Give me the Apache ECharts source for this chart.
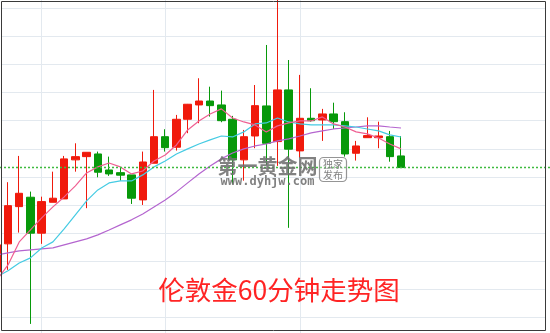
<!DOCTYPE html>
<html><head><meta charset="utf-8">
<script src="https://cdn.jsdelivr.net/npm/echarts@6/dist/echarts.min.js"></script>
<style>html,body{margin:0;padding:0;background:#fff;}#c{width:550px;height:333px;}</style>
</head><body><div id="c"></div>
<script>
// [open, close, low, high] per 60-minute candle
const ohlc = [
  [1265.23, 1267.16, 1264.95, 1267.51],
  [1267.23, 1269.95, 1265.38, 1271.62],
  [1269.88, 1270.83, 1268.03, 1273.49],
  [1270.55, 1267.99, 1261.53, 1270.95],
  [1267.99, 1270.24, 1267.23, 1270.59],
  [1270.19, 1270.48, 1270.19, 1272.37],
  [1270.43, 1273.28, 1270.43, 1273.49],
  [1273.21, 1273.44, 1272.37, 1274.39],
  [1273.44, 1273.75, 1269.77, 1273.75],
  [1273.63, 1272.33, 1271.97, 1273.80],
  [1272.49, 1272.21, 1272.07, 1273.44],
  [1272.30, 1272.12, 1271.73, 1272.66],
  [1272.14, 1270.48, 1270.07, 1272.14],
  [1270.36, 1273.06, 1270.00, 1273.80],
  [1272.97, 1274.86, 1272.97, 1278.19],
  [1274.86, 1274.08, 1273.80, 1275.39],
  [1274.11, 1276.10, 1273.87, 1276.41],
  [1276.10, 1277.17, 1275.11, 1277.19],
  [1277.12, 1277.40, 1275.82, 1279.02],
  [1277.40, 1277.07, 1276.29, 1278.42],
  [1277.12, 1276.00, 1275.89, 1278.14],
  [1276.10, 1273.21, 1271.50, 1276.34],
  [1273.21, 1274.86, 1271.73, 1275.34],
  [1274.91, 1277.07, 1274.04, 1278.54],
  [1277.05, 1274.39, 1272.85, 1281.39],
  [1274.51, 1278.19, 1272.78, 1284.81],
  [1278.19, 1273.97, 1268.37, 1280.32],
  [1273.85, 1276.17, 1273.35, 1279.26],
  [1276.17, 1276.00, 1275.93, 1278.31],
  [1276.05, 1276.48, 1274.56, 1276.84],
  [1276.48, 1275.93, 1275.41, 1277.28],
  [1275.93, 1273.63, 1273.44, 1276.60],
  [1273.68, 1274.20, 1273.16, 1274.56],
  [1274.79, 1274.94, 1274.79, 1276.24],
  [1274.79, 1274.91, 1274.04, 1275.93],
  [1274.86, 1273.44, 1273.08, 1275.27],
  [1273.49, 1272.66, 1272.66, 1274.91]
];
const ma5 = [1264.66, 1265.73, 1267.37, 1268.22, 1269.08, 1269.86, 1270.57, 1271.36, 1272.28, 1272.71,
  1272.99, 1272.71, 1272.21, 1272.42, 1273.13, 1273.56, 1274.27, 1275.34, 1275.98, 1276.48,
  1276.84, 1276.19, 1275.91, 1275.70, 1275.20, 1275.63, 1275.84, 1275.98, 1275.98, 1276.27,
  1275.77, 1275.55, 1275.20, 1275.06, 1274.77, 1274.34, 1273.99];
const ma10 = [1264.88, 1265.31, 1265.87, 1266.23, 1266.94, 1267.37, 1268.29, 1269.29, 1270.29, 1271.07,
  1271.57, 1271.71, 1271.71, 1272.14, 1272.71, 1273.13, 1273.63, 1273.99, 1274.34, 1274.63,
  1274.91, 1274.84, 1275.20, 1275.77, 1275.84, 1276.19, 1275.91, 1275.77, 1275.70, 1275.70,
  1275.70, 1275.63, 1275.55, 1275.41, 1275.27, 1274.99, 1274.84];
const ma30 = [1266.44, 1266.59, 1266.73, 1266.80, 1266.87, 1266.94, 1267.16, 1267.37, 1267.58, 1267.87,
  1268.22, 1268.58, 1268.94, 1269.36, 1269.86, 1270.36, 1270.93, 1271.57, 1272.21, 1272.78,
  1273.28, 1273.70, 1273.99, 1274.20, 1274.34, 1274.56, 1274.70, 1274.91, 1275.13, 1275.27,
  1275.41, 1275.48, 1275.55, 1275.63, 1275.63, 1275.55, 1275.48];
const lastPrice = 1272.66;
const vGridAt = [4, 15, 27];
const chartTitle = '伦敦金60分钟走势图';
const watermark = '第一黄金网';
const watermarkUrl = 'www.dyhjw.com';
const badge = ['独家', '发布'];

const UP = '#f01a0c', DOWN = '#07990a';
const chart = echarts.init(document.getElementById('c'), null, {renderer: 'canvas'});
const gridPos = {left: 1, right: 5, top: -19.77, bottom: -12.4, outerBoundsMode: 'none', containLabel: false};
const lineOf = (arr) => arr.map((v, i) => [i, v]);

chart.setOption({
  animation: false,
  backgroundColor: '#ffffff',
  grid: [
    Object.assign({}, gridPos),
    Object.assign({}, gridPos, {left: 0, right: 0})
  ],
  xAxis: [
    {type: 'value', gridIndex: 0, min: 0.3767, max: 48.82, show: false, splitLine: {show: false}},
    {type: 'value', gridIndex: 1, min: 0, max: 1, show: false, splitLine: {show: false}}
  ],
  yAxis: [
    {type: 'value', gridIndex: 0, min: 1260, max: 1286, interval: 2,
     axisLine: {show: false}, axisTick: {show: false}, axisLabel: {show: false},
     splitLine: {show: true, lineStyle: {color: '#e3e9ef', width: 1}}},
    {type: 'value', gridIndex: 1, min: 1260, max: 1286, show: false, splitLine: {show: false}}
  ],
  series: [
    {
      type: 'candlestick', xAxisIndex: 0, yAxisIndex: 0, z: 2, clip: false,
      barWidth: 8,
      encode: {x: 0, y: [1, 2, 3, 4]},
      data: ohlc.map((d, i) => [i, d[0], d[1], d[2], d[3]]),
      itemStyle: {color: UP, color0: DOWN, borderColor: UP, borderColor0: DOWN, borderWidth: 1},
      markLine: {
        z: 1, silent: true, symbol: ['none', 'none'], label: {show: false},
        lineStyle: {color: '#e3e9ef', width: 1, type: 'solid'},
        data: vGridAt.map(v => ({xAxis: v}))
      }
    },
    {type: 'line', xAxisIndex: 0, yAxisIndex: 0, z: 3, clip: false, data: lineOf(ma30), symbol: 'none',
     lineStyle: {color: '#b465cf', width: 1.2}},
    {type: 'line', xAxisIndex: 0, yAxisIndex: 0, z: 3, clip: false, data: lineOf(ma10), symbol: 'none',
     lineStyle: {color: '#45cbe3', width: 1.2}},
    {type: 'line', xAxisIndex: 0, yAxisIndex: 0, z: 3, clip: false, data: lineOf(ma5), symbol: 'none',
     lineStyle: {color: '#ef5f92', width: 1.2}},
    {type: 'line', xAxisIndex: 1, yAxisIndex: 1, z: 4, data: [[0, lastPrice], [1, lastPrice]], symbol: 'none',
     lineStyle: {color: '#3fba3f', width: 1.5, type: [2, 2]}}
  ],
  graphic: [
    {type: 'rect', z: 100, silent: true, shape: {x: 1.5, y: 1.5, width: 544, height: 329},
     style: {fill: 'none', stroke: '#3a3a3a', lineWidth: 1}},
    {type: 'text', z: 100, silent: true, x: 267.5, y: 166.5,
     style: {text: watermark, font: 'bold 20px "Noto Sans CJK SC"', fill: 'rgba(112,112,112,0.88)',
             align: 'center', verticalAlign: 'middle'}},
    {type: 'text', z: 100, silent: true, x: 267.5, y: 181.5,
     style: {text: watermarkUrl, font: 'bold 12px "DejaVu Sans Mono"', fill: 'rgba(112,112,112,0.88)',
             align: 'center', verticalAlign: 'middle'}},
    {type: 'rect', z: 100, silent: true, shape: {x: 319.5, y: 157.5, width: 27, height: 24, r: 4},
     style: {fill: 'rgba(255,255,255,0.3)', stroke: 'rgba(130,130,130,0.85)', lineWidth: 1.2}},
    {type: 'text', z: 100, silent: true, x: 333, y: 164,
     style: {text: badge[0], font: '10px "Noto Sans CJK SC"', fill: 'rgba(115,115,115,0.9)',
             align: 'center', verticalAlign: 'middle'}},
    {type: 'text', z: 100, silent: true, x: 333, y: 175.5,
     style: {text: badge[1], font: '10px "Noto Sans CJK SC"', fill: 'rgba(115,115,115,0.9)',
             align: 'center', verticalAlign: 'middle'}},
    {type: 'text', z: 100, silent: true, x: 279, y: 290,
     style: {text: chartTitle, font: '26.5px "Noto Sans CJK SC"', fill: '#ff2424',
             align: 'center', verticalAlign: 'middle'}}
  ]
});
</script>
</body></html>
